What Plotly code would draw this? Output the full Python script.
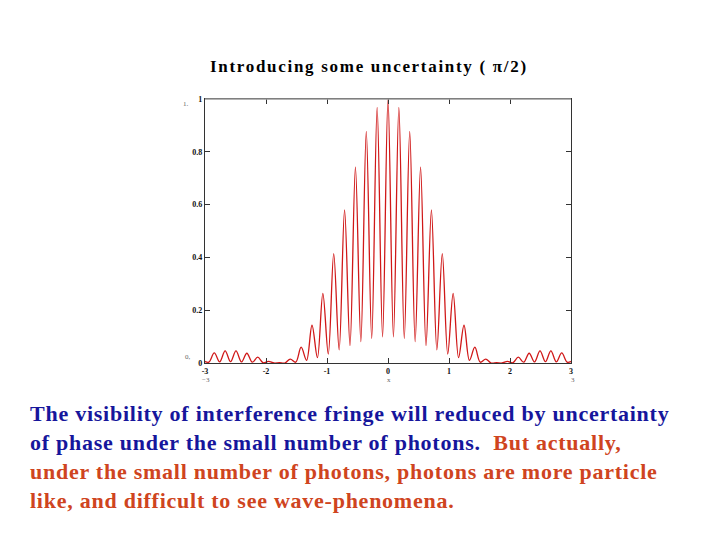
import plotly.graph_objects as go

# Fringe extrema (peaks and troughs, left to right)
x_vals = [-3.000, -2.937, -2.848, -2.759, -2.670, -2.581, -2.492, -2.403, -2.314, -2.225,
          -2.136, -2.047, -1.958, -1.869, -1.780, -1.691, -1.602, -1.513, -1.424, -1.335,
          -1.246, -1.157, -1.068, -0.979, -0.890, -0.801, -0.712, -0.623, -0.534, -0.445,
          -0.356, -0.267, -0.178, -0.089, 0.000,
          0.089, 0.178, 0.267, 0.356, 0.445, 0.534, 0.623, 0.712, 0.801, 0.890,
          0.979, 1.068, 1.157, 1.246, 1.335, 1.424, 1.513, 1.602, 1.691, 1.780,
          1.869, 1.958, 2.047, 2.136, 2.225, 2.314, 2.403, 2.492, 2.581, 2.670,
          2.759, 2.848, 2.937, 3.000]
y_vals = [0.006, 0.003, 0.038, 0.004, 0.046, 0.005, 0.046, 0.004, 0.037, 0.003,
          0.022, 0.001, 0.006, 0.000, 0.001, 0.000, 0.015, 0.003, 0.060, 0.010,
          0.143, 0.020, 0.264, 0.034, 0.414, 0.050, 0.580, 0.066, 0.742, 0.081,
          0.877, 0.093, 0.968, 0.099, 1.000,
          0.099, 0.968, 0.093, 0.877, 0.081, 0.742, 0.066, 0.580, 0.050, 0.414,
          0.034, 0.264, 0.020, 0.143, 0.010, 0.060, 0.003, 0.015, 0.000, 0.001,
          0.000, 0.006, 0.001, 0.022, 0.003, 0.037, 0.004, 0.046, 0.005, 0.046,
          0.004, 0.038, 0.003, 0.006]

x_ticks = [-3, -2, -1, 0, 1, 2, 3]
y_ticks = [0, 0.2, 0.4, 0.6, 0.8, 1]
y_tick_text = ["0", "0.2", "0.4", "0.6", "0.8", "1"]

title_text = "Introducing some uncertainty ( π/2)"
BLUE = "#16169c"
ORANGE = "#cf4420"
SP = "letter-spacing:0.75px"
body_lines = [
    f"<span style='color:{BLUE};{SP}'>The visibility of interference fringe will reduced by uncertainty</span>",
    f"<span style='color:{BLUE};{SP}'>of phase under the small number of photons.</span>"
    f"<span style='color:{ORANGE};{SP}'>  But actually,</span>",
    f"<span style='color:{ORANGE};{SP}'>under the small number of photons, photons are more particle</span>",
    f"<span style='color:{ORANGE};{SP}'>like, and difficult to see wave-phenomena.</span>",
]

SERIF = "Liberation Serif, Times New Roman, serif"

fig = go.Figure()
fig.add_trace(go.Scatter(
    x=x_vals, y=y_vals, mode="lines",
    line=dict(color="#d01818", width=1.3, shape="spline", smoothing=1.0),
    showlegend=False, hoverinfo="skip",
))

W, H = 720, 540
L, R, T, B = 205, 149, 99, 177
pw, ph = W - L - R, H - T - B


def px(xp):
    return (xp - L) / pw


def py(yp):
    return (H - B - yp) / ph


annotations = [
    dict(text=f"<b><span style='letter-spacing:1.7px'>{title_text}</span></b>",
         x=px(369), y=py(66), xref="paper", yref="paper",
         xanchor="center", yanchor="middle", showarrow=False,
         font=dict(family=SERIF, size=17, color="#000000")),
]
line_y = [413, 442, 471, 500]
for txt, yy in zip(body_lines, line_y):
    annotations.append(dict(
        text=f"<b>{txt}</b>", x=px(28), y=py(yy), xref="paper", yref="paper",
        xanchor="left", yanchor="middle", showarrow=False, align="left",
        font=dict(family=SERIF, size=22)))

# small faint axis markers (Mathcad style)
for t, xx, yy in [("1.", 186, 104), ("0,", 188, 357), ("−3", 206, 380), ("x", 389, 380), ("3", 573, 380)]:
    annotations.append(dict(text=t, x=px(xx), y=py(yy), xref="paper", yref="paper",
                            xanchor="center", yanchor="middle", showarrow=False,
                            font=dict(family=SERIF, size=7, color="#666666")))

fig.update_layout(
    width=W, height=H,
    margin=dict(l=L, r=R, t=T, b=B),
    paper_bgcolor="white", plot_bgcolor="white",
    annotations=annotations,
    xaxis=dict(range=[-3, 3], tickvals=x_ticks, ticktext=[str(v) for v in x_ticks],
               showgrid=False, zeroline=False, showline=True, linecolor="#333333", linewidth=1.2,
               mirror="ticks", ticks="inside", ticklen=5, tickcolor="#333333",
               tickfont=dict(family=SERIF, size=8, color="#111111", weight="bold")),
    yaxis=dict(range=[0, 1], tickvals=y_ticks, ticktext=y_tick_text,
               showgrid=False, zeroline=False, showline=True, linecolor="#333333", linewidth=1.2,
               mirror="ticks", ticks="inside", ticklen=5, tickcolor="#333333",
               tickfont=dict(family=SERIF, size=8, color="#111111", weight="bold")),
    shapes=[dict(type="line", xref="paper", yref="paper", x0=0, x1=1, y0=1, y1=1,
                 line=dict(color="#9a9a9a", width=1.5))],
)

fig.write_html("out.html")
